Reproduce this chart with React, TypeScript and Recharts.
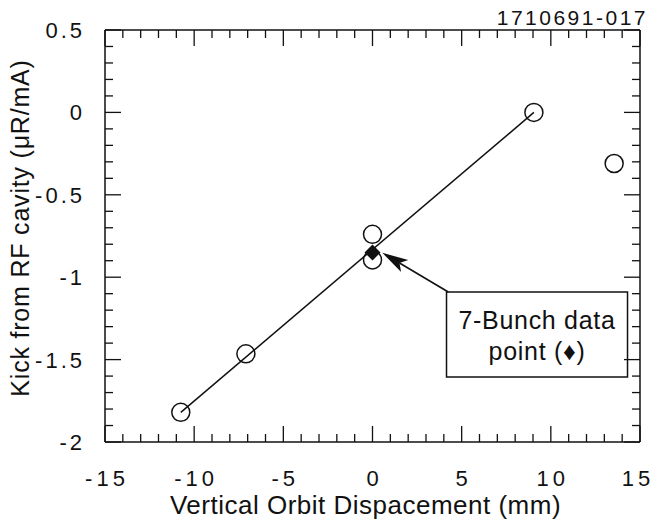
import React from 'react';
import { ScatterChart, Scatter, XAxis, YAxis, ReferenceArea, ReferenceLine } from 'recharts';

// measured kicks (open circles)
const measuredX = [-10.75, -7.1, 0, 0, 9.05, 13.55];
const measuredY = [-1.82, -1.465, -0.74, -0.895, 0, -0.31];
// 7-bunch point (filled diamond)
const bunchX = [0];
const bunchY = [-0.85];
// fitted straight line
const fitX = [-10.75, 9.05];
const fitY = [-1.82, 0];

const xTicks = Array.from({ length: 31 }, (_, i) => i - 15);
const yTicks = Array.from({ length: 26 }, (_, i) => Math.round((-2 + i * 0.1) * 10) / 10);

const noteLines = ['7-Bunch data', 'point (♦)'];
const noteBox = { x1: 4.15, x2: 14.3, y1: -1.605, y2: -1.09 };
const arrowFrom = { x: 4.25, y: -1.09 };
const arrowTo = { x: 0.55, y: -0.852 };

const measured = measuredX.map((x, i) => ({ x, y: measuredY[i] }));
const bunch = bunchX.map((x, i) => ({ x, y: bunchY[i] }));
const fit = fitX.map((x, i) => ({ x, y: fitY[i] }));

const W = 656;
const H = 529;
const FONT = '"Liberation Sans", Arial, Helvetica, sans-serif';
const INK = '#111';

const isMajorX = (v: number) => Math.abs(v % 5) < 1e-6;
const isMajorY = (v: number) => Math.abs(Math.round(v * 2) - v * 2) < 1e-6;

const BottomTick = (p: any) => {
  const v = p.payload.value;
  const major = isMajorX(v);
  const label = String(v);
  // keep the last label inside the picture
  const halfW = (label.length * 16) / 2;
  const lx = Math.min(p.x + 2, W - halfW - 2);
  return (
    <g>
      <line x1={p.x} x2={p.x} y1={p.y} y2={p.y - (major ? 16 : 8)} stroke={INK} strokeWidth={1.3} />
      {major && (
        <text x={lx} y={p.y + 44} textAnchor="middle" fontSize={22} letterSpacing={4} fill={INK} fontFamily={FONT}>
          {label}
        </text>
      )}
    </g>
  );
};

const TopTick = (p: any) => {
  const major = isMajorX(p.payload.value);
  return <line x1={p.x} x2={p.x} y1={p.y} y2={p.y + (major ? 16 : 8)} stroke={INK} strokeWidth={1.3} />;
};

const LeftTick = (p: any) => {
  const v = p.payload.value;
  const major = isMajorY(v);
  return (
    <g>
      <line x1={p.x} x2={p.x + (major ? 16 : 8)} y1={p.y} y2={p.y} stroke={INK} strokeWidth={1.3} />
      {major && (
        <text x={p.x - 20} y={p.y + 8} textAnchor="end" fontSize={22} letterSpacing={3} fill={INK} fontFamily={FONT}>
          {String(v)}
        </text>
      )}
    </g>
  );
};

const RightTick = (p: any) => {
  const major = isMajorY(p.payload.value);
  return <line x1={p.x} x2={p.x - (major ? 16 : 8)} y1={p.y} y2={p.y} stroke={INK} strokeWidth={1.3} />;
};

const OpenCircle = (p: any) => <circle cx={p.cx} cy={p.cy} r={9} fill="none" stroke={INK} strokeWidth={1.5} />;

const Diamond = (p: any) => (
  <polygon
    points={`${p.cx},${p.cy - 8} ${p.cx + 8},${p.cy} ${p.cx},${p.cy + 8} ${p.cx - 8},${p.cy}`}
    fill={INK}
  />
);

const Arrow = (p: any) => {
  const { x1, y1, x2, y2 } = p;
  const dx = x2 - x1;
  const dy = y2 - y1;
  const len = Math.sqrt(dx * dx + dy * dy);
  const ux = dx / len;
  const uy = dy / len;
  const head = 26;
  const half = 7;
  const bx = x2 - ux * head;
  const by = y2 - uy * head;
  const nx = x2 - ux * (head - 6);
  const ny = y2 - uy * (head - 6);
  return (
    <g>
      <line x1={x1} y1={y1} x2={nx} y2={ny} stroke={INK} strokeWidth={1.6} />
      <polygon
        points={`${x2},${y2} ${bx - uy * half},${by + ux * half} ${nx},${ny} ${bx + uy * half},${by - ux * half}`}
        fill={INK}
      />
    </g>
  );
};

const NoteLabel = (p: any) => {
  const vb = p.viewBox;
  const cx = vb.x + vb.width / 2;
  return (
    <g>
      {noteLines.map((t, i) => (
        <text key={t} x={cx} y={vb.y + 37 + i * 31} textAnchor="middle" fontSize={25} letterSpacing={0.7} fill={INK} fontFamily={FONT}>
          {t}
        </text>
      ))}
    </g>
  );
};

const XLabel = (p: any) => {
  const vb = p.viewBox;
  return (
    <text x={vb.x + vb.width / 2 - 7} y={vb.y + vb.height - 15} textAnchor="middle" fontSize={26} letterSpacing={0.5} fill={INK} fontFamily={FONT}>
      Vertical Orbit Dispacement (mm)
    </text>
  );
};

const YLabel = (p: any) => {
  const vb = p.viewBox;
  const x = vb.x + 29;
  const y = vb.y + vb.height / 2 - 8;
  return (
    <text x={x} y={y} transform={`rotate(-90 ${x} ${y})`} textAnchor="middle" fontSize={25} letterSpacing={0.8} fill={INK} fontFamily={FONT}>
      Kick from RF cavity (μR/mA)
    </text>
  );
};

export default function App() {
  return (
    <div style={{ position: 'absolute', left: 0, top: 0, width: W, height: H, background: '#fff' }}>
      <div
        style={{
          position: 'absolute',
          right: 8,
          top: 6,
          fontFamily: FONT,
          fontSize: 21,
          letterSpacing: 2.5,
          color: INK,
        }}
      >
        1710691-017
      </div>
      <ScatterChart width={W} height={H} margin={{ top: 29, right: 15, bottom: 0, left: 0 }}>
        <XAxis
          xAxisId="bottom"
          dataKey="x"
          type="number"
          domain={[-15, 15]}
          ticks={xTicks}
          interval={0}
          height={87}
          tickSize={0}
          tickMargin={0}
          tickLine={false}
          axisLine={{ stroke: INK, strokeWidth: 1.5 }}
          tick={(p: any) => <BottomTick {...p} />}
          label={(p: any) => <XLabel {...p} />}
        />
        <XAxis
          xAxisId="top"
          orientation="top"
          dataKey="x"
          type="number"
          domain={[-15, 15]}
          ticks={xTicks}
          interval={0}
          height={1}
          tickSize={0}
          tickMargin={0}
          tickLine={false}
          axisLine={{ stroke: INK, strokeWidth: 1.5 }}
          tick={(p: any) => <TopTick {...p} />}
        />
        <YAxis
          yAxisId="left"
          dataKey="y"
          type="number"
          domain={[-2, 0.5]}
          ticks={yTicks}
          interval={0}
          width={105}
          tickSize={0}
          tickMargin={0}
          tickLine={false}
          axisLine={{ stroke: INK, strokeWidth: 1.5 }}
          tick={(p: any) => <LeftTick {...p} />}
          label={(p: any) => <YLabel {...p} />}
        />
        <YAxis
          yAxisId="right"
          orientation="right"
          dataKey="y"
          type="number"
          domain={[-2, 0.5]}
          ticks={yTicks}
          interval={0}
          width={1}
          tickSize={0}
          tickMargin={0}
          tickLine={false}
          axisLine={{ stroke: INK, strokeWidth: 1.5 }}
          tick={(p: any) => <RightTick {...p} />}
        />
        <Scatter
          xAxisId="top"
          yAxisId="right"
          data={fit}
          shape={() => <g />}
          isAnimationActive={false}
        />
        <Scatter
          xAxisId="bottom"
          yAxisId="left"
          data={fit}
          line={{ stroke: INK, strokeWidth: 1.5 }}
          shape={() => <g />}
          isAnimationActive={false}
        />
        <Scatter xAxisId="bottom" yAxisId="left" data={measured} shape={OpenCircle} isAnimationActive={false} />
        <ReferenceArea
          xAxisId="bottom"
          yAxisId="left"
          x1={noteBox.x1}
          x2={noteBox.x2}
          y1={noteBox.y1}
          y2={noteBox.y2}
          fill="#fff"
          fillOpacity={1}
          stroke={INK}
          strokeWidth={1.5}
          label={(p: any) => <NoteLabel {...p} />}
        />
        <ReferenceLine
          xAxisId="bottom"
          yAxisId="left"
          segment={[arrowFrom, arrowTo]}
          shape={(p: any) => <Arrow {...p} />}
        />
        <Scatter xAxisId="bottom" yAxisId="left" data={bunch} shape={Diamond} isAnimationActive={false} />
      </ScatterChart>
    </div>
  );
}
